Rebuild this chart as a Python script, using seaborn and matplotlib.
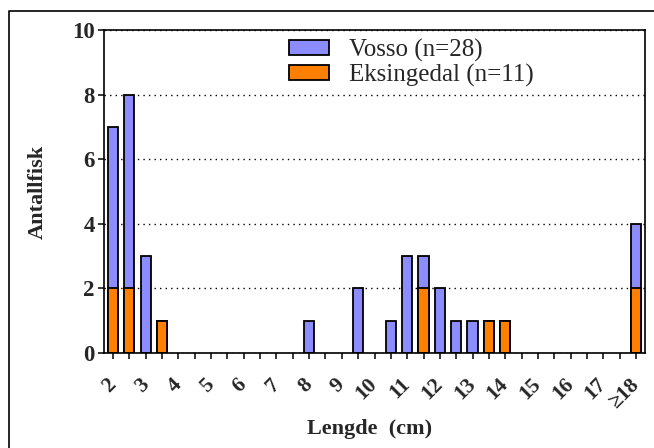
import matplotlib
matplotlib.use("Agg")
import matplotlib.pyplot as plt
from matplotlib.patches import Patch
from matplotlib.lines import Line2D
import numpy as np
import pandas as pd
import seaborn as sns

# length classes in half-cm steps, 2 .. >=18
SLOTS = ["2", "2.5", "3", "3.5", "4", "4.5", "5", "5.5", "6", "6.5", "7", "7.5",
         "8", "8.5", "9", "9.5", "10", "10.5", "11", "11.5", "12", "12.5", "13",
         "13.5", "14", "14.5", "15", "15.5", "16", "16.5", "17", "17.5", ">=18"]
TICK_LABELS = ["2", "", "3", "", "4", "", "5", "", "6", "", "7", "", "8", "",
               "9", "", "10", "", "11", "", "12", "", "13", "", "14", "", "15",
               "", "16", "", "17", "", "\u226518"]
VOSSO = [5, 6, 3, 0, 0, 0, 0, 0, 0, 0, 0, 0, 1, 0, 0, 2, 0, 1, 3, 1, 2, 1, 1,
         0, 0, 0, 0, 0, 0, 0, 0, 0, 2]
EKSINGEDAL = [2, 2, 0, 1, 0, 0, 0, 0, 0, 0, 0, 0, 0, 0, 0, 0, 0, 0, 0, 2, 0, 0,
              0, 1, 1, 0, 0, 0, 0, 0, 0, 0, 2]

BLUE = "#8c8cff"
ORANGE = "#ff8000"

sns.set_style("white")
plt.rcParams["font.family"] = ["Liberation Serif", "DejaVu Serif"]

df = pd.DataFrame({"slot": SLOTS, "vosso": VOSSO, "eks": EKSINGEDAL})
df["total"] = df["vosso"] + df["eks"]

fig = plt.figure(figsize=(6.54, 4.48), dpi=100)
ax = fig.add_axes([104 / 654, 1 - 353 / 448, 541 / 654, 323 / 448])

# stacked: total first, Eksingedal drawn on top at the bottom
sns.barplot(data=df[df["total"] > 0], x="slot", y="total", order=SLOTS,
            color=BLUE, saturation=1, width=0.62, edgecolor="black",
            linewidth=1.3, ax=ax)
sns.barplot(data=df[df["eks"] > 0], x="slot", y="eks", order=SLOTS,
            color=ORANGE, saturation=1, width=0.62, edgecolor="black",
            linewidth=1.3, ax=ax)

ax.set_xlim(-0.55, len(SLOTS) - 0.45)
ax.set_ylim(0, 10)
ax.set_yticks([0, 2, 4, 6, 8, 10])
ax.set_xticks(range(len(SLOTS)))
ax.set_xticklabels(TICK_LABELS, rotation=45, ha="right", va="center",
                   rotation_mode="anchor", fontweight="bold", fontsize=15.5)
for lab in ax.get_yticklabels():
    lab.set_fontweight("bold")
    lab.set_fontsize(16.5)
ax.tick_params(axis="both", direction="out", length=4.5, width=1.1,
               color="black", left=True, bottom=True)
ax.tick_params(axis="x", pad=16)
ax.tick_params(axis="y", pad=2)

ax.yaxis.grid(True, linestyle=(0, (1, 3)), color="black", linewidth=1.0)
ax.set_axisbelow(True)
for sp in ax.spines.values():
    sp.set_visible(True)
    sp.set_color("black")
    sp.set_linewidth(1.2)

ax.set_xlabel("Lengde  (cm)", fontsize=16, fontweight="bold")
ax.set_ylabel("Antallfisk", fontsize=16, fontweight="bold")
ax.xaxis.set_label_coords(0.49, -0.205)
ax.yaxis.set_label_coords(-0.103, 0.5)

handles = [Patch(facecolor=BLUE, edgecolor="black", linewidth=1.3),
           Patch(facecolor=ORANGE, edgecolor="black", linewidth=1.3)]
ax.legend(handles, ["Vosso (n=28)", "Eksingedal (n=11)"], loc="upper left",
          bbox_to_anchor=(0.315, 1.02), frameon=False, fontsize=18,
          handlelength=1.6, handleheight=0.55, handletextpad=0.8,
          labelspacing=0.08, borderaxespad=0.2)

# outer frame of the original picture (left and top edges only)
fig.add_artist(Line2D([9 / 654, 9 / 654, 1.0], [0.0, 1 - 11 / 448, 1 - 11 / 448],
                      transform=fig.transFigure, color="black", linewidth=1.2))

fig.savefig("out.png", dpi=100)
